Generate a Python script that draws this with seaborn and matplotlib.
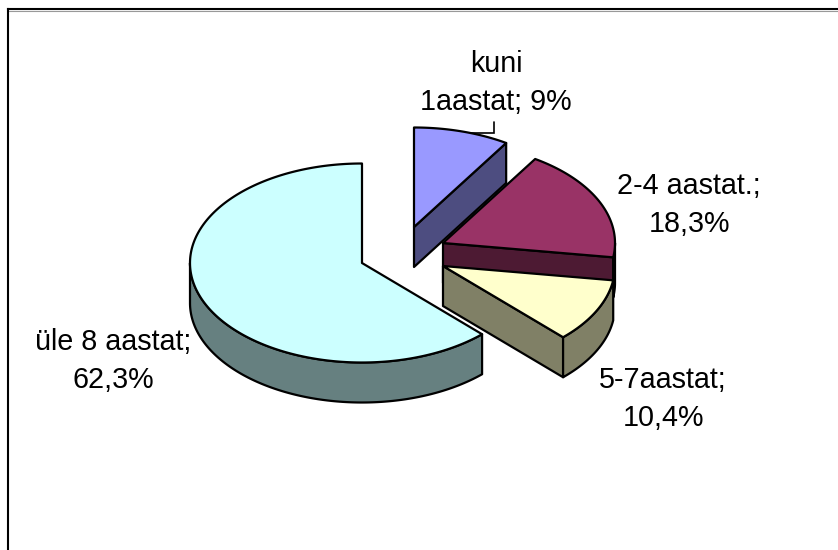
import numpy as np
import matplotlib
matplotlib.use("Agg")
import matplotlib.pyplot as plt
from matplotlib.patches import Polygon
import seaborn as sns

labels = ["kuni\n1aastat; 9%", "2-4 aastat.;\n18,3%", "5-7aastat;\n10,4%", "üle 8 aastat;\n62,3%"]
values = [9.0, 18.3, 10.4, 62.3]
top_colors = ["#9999FF", "#993366", "#FFFFCC", "#CCFFFF"]
side_colors = ["#4D4D80", "#4D1A33", "#808066", "#668080"]

centers = [(414, 227), (443, 243), (443, 266), (362, 263)]
label_pos = [(496, 110), (689, 232), (663, 426), (113, 388)]
RX, RY, DEPTH = 172, 99.5, 40

sns.set_theme(style="white")
plt.rcParams["font.family"] = ["Liberation Sans", "DejaVu Sans"]
fig = plt.figure(figsize=(8.38, 5.5), dpi=100, facecolor="white")
ax = fig.add_axes([8 / 838, 0, 830 / 838, 541 / 550])
ax.set_xlim(8, 838)
ax.set_ylim(550, 9)
ax.set_xticks([])
ax.set_yticks([])
sns.despine(ax=ax, top=False, left=False, right=True, bottom=True)
for s in ("left", "top"):
    ax.spines[s].set_color("black")
    ax.spines[s].set_linewidth(1.5)
ax.axhline(10.8, color="#999999", lw=0.8, zorder=0)

LW = 1.6
def arc(c, a, b, dy=0.0):
    t = np.radians(np.linspace(a, b, max(int(abs(b - a) * 2), 2)))
    return np.column_stack([c[0] + RX * np.sin(t), c[1] - RY * np.cos(t) + dy])

def add(points, colour, z):
    ax.add_patch(Polygon(points, closed=True, fc=colour, ec="black", lw=LW, joinstyle="round", zorder=z))

edges = np.concatenate([[0], np.cumsum(values)]) * 3.6
order = [3, 0, 1, 2]
for rank, i in enumerate(order):
    c, a, b = centers[i], edges[i], edges[i + 1]
    z = 2 + rank * 3
    # radial cut face, seen from the front when the slice ends before the bottom
    if b < 180:
        e = arc(c, b, b)[0]
        add([c, e, (e[0], e[1] + DEPTH), (c[0], c[1] + DEPTH)], side_colors[i], z)
    # outer rim on the front half of the ellipse
    lo, hi = max(a, 90), min(b, 270)
    if hi > lo:
        rim_top = arc(c, lo, hi)
        rim_bot = arc(c, lo, hi, DEPTH)
        add(np.vstack([rim_top, rim_bot[::-1]]), side_colors[i], z + 1)
    add(np.vstack([[c], arc(c, a, b)]), top_colors[i], z + 2)

# leader line of the first label
ax.plot([494, 494, 470], [122, 133, 133], color="black", lw=1.2, zorder=1, solid_joinstyle="miter")

for text, (x, y) in zip(labels, label_pos):
    ax.text(x, y, text, ha="center", va="baseline", fontsize=20.7, color="black",
            linespacing=1.46, zorder=30)

fig.savefig("out.png", dpi=100)
